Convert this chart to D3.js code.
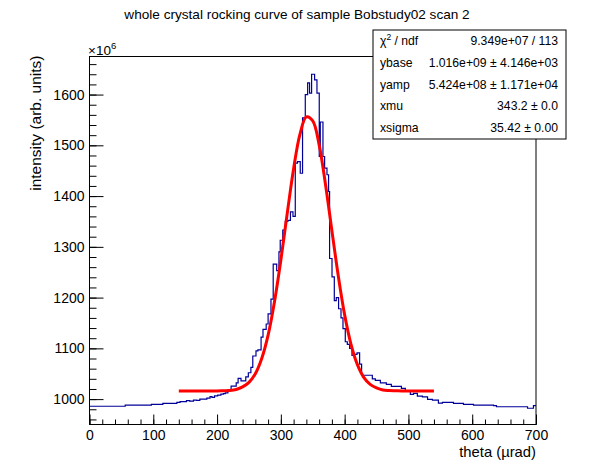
<!DOCTYPE html>
<html>
<head>
<meta charset="utf-8">
<script src="https://cdn.jsdelivr.net/npm/d3@7"></script>
<style>
  body { margin: 0; background: #fff; }
  svg text { font-family: "Liberation Sans", Arial, Helvetica, sans-serif; }
</style>
</head>
<body>
<div id="chart"></div>
<script>
// histogram: left edge of each step (theta, µrad) and its content (x1e6)
const histEdges = [
  0, 56, 97, 115, 137, 142, 152, 157, 163, 168, 173, 184, 189, 192, 196, 201, 206, 210,
  213, 217, 222, 230, 233, 237.5, 245, 249, 253, 256, 261, 264, 269, 272, 277, 280, 284.5,
  288, 293.5, 297, 299, 303, 307, 311, 315, 319, 322.6, 326, 330.4, 334, 338.3, 342, 345,
  348.2, 352.9, 356.6, 360.2, 361.8, 366, 368.6, 372.3, 374.8, 376.4, 380.2, 383.8, 386.9,
  390.5, 394.3, 397.4, 401, 404.2, 407.8, 411.5, 414.1, 419.4, 423.5, 426.6, 443.4, 448.1,
  456, 465.4, 473.2, 489, 495.2, 503, 508, 514, 522, 530, 537.6, 547, 553.3, 570.6, 586.3,
  602, 633.4, 638, 686.7, 696
];
const histValues = [
  986, 988, 989.5, 991.5, 993.5, 995, 997, 996, 998, 997.5, 1000, 1002, 1005, 1003.5, 1006.5, 1008, 1010, 1011,
  1012.5, 1018, 1025.5, 1032, 1041, 1036, 1044, 1052, 1062.5, 1085, 1095, 1097, 1122, 1137.5, 1148, 1168, 1197,
  1266, 1253, 1290, 1313, 1333, 1350, 1352, 1369, 1360, 1465, 1468, 1445, 1554, 1600, 1623, 1603,
  1640, 1629, 1603, 1478, 1546, 1478, 1455, 1442, 1409, 1277, 1241, 1194, 1200,
  1178, 1160, 1139, 1113, 1108, 1100, 1086, 1088, 1091, 1069, 1047, 1040, 1037,
  1032, 1029, 1025, 1021, 1015, 1009.5, 1011.5, 1006, 1004.5, 999.5, 998, 992, 993.5, 991.5, 989.5,
  988, 987, 985, 982, 987
];
const histEnd = 700;

// fitted curve
const fitTheta = [
  140, 150, 160, 170, 180, 190, 200, 210, 220, 230, 240, 250, 260, 270, 280, 290, 300, 310, 320, 330,
  340, 350, 360, 370, 380, 390, 400, 410, 420, 430, 440, 450, 460, 470, 480, 490, 500, 510, 520, 530, 540
];
const fitValues = [
  1016, 1016, 1016, 1016, 1016, 1016, 1016, 1016.5, 1017, 1019, 1024, 1033, 1050, 1080, 1126, 1192, 1274, 1366, 1454, 1522,
  1556, 1548, 1501, 1423, 1332, 1243, 1166, 1108, 1068, 1043, 1029, 1022, 1018, 1017, 1016.5, 1016, 1016, 1016, 1016, 1016, 1016
];

const xTicks = [0, 100, 200, 300, 400, 500, 600, 700];
const yTicks = [1000, 1100, 1200, 1300, 1400, 1500, 1600];

const statNames = ["χ2 / ndf", "ybase", "yamp", "xmu", "xsigma"];
const statValues = ["9.349e+07 / 113", "1.016e+09 ± 4.146e+03", "5.424e+08 ± 1.171e+04", "343.2 ± 0.0", "35.42 ± 0.00"];

const W = 596, H = 472;
const frame = { left: 89.5, right: 536, top: 56.5, bottom: 424.5 };

const svg = d3.select("#chart").append("svg")
    .attr("width", W)
    .attr("height", H);

svg.append("rect").attr("width", W).attr("height", H).attr("fill", "#fff");

const x = d3.scaleLinear().domain([0, 700]).range([frame.left, frame.right]);
const y = d3.scaleLinear().domain([950, 1675]).range([frame.bottom, frame.top]);

// title
svg.append("text")
    .attr("x", 297)
    .attr("y", 19)
    .attr("text-anchor", "middle")
    .attr("font-size", 13.6)
    .text("whole crystal rocking curve of sample Bobstudy02 scan 2");

// axes (ticks inside the frame, ROOT style)
const xMinor = d3.range(0, 701, 20);
const yMinor = d3.range(960, 1675, 20);

svg.append("g")
    .attr("transform", `translate(0,${frame.bottom})`)
    .call(d3.axisBottom(x).tickValues(xMinor).tickSize(-5).tickFormat(""))
    .call(g => g.select(".domain").remove());

svg.append("g")
    .attr("transform", `translate(0,${frame.bottom})`)
    .call(d3.axisBottom(x).tickValues(xTicks).tickSize(-10).tickPadding(6).tickFormat(d3.format("d")))
    .call(g => g.select(".domain").remove())
    .call(g => g.selectAll("text").attr("font-size", 14).attr("fill", "#000"));

svg.append("g")
    .attr("transform", `translate(${frame.left},0)`)
    .call(d3.axisLeft(y).tickValues(yMinor).tickSize(-7).tickFormat(""))
    .call(g => g.select(".domain").remove());

svg.append("g")
    .attr("transform", `translate(${frame.left},0)`)
    .call(d3.axisLeft(y).tickValues(yTicks).tickSize(-14).tickPadding(5).tickFormat(d3.format("d")))
    .call(g => g.select(".domain").remove())
    .call(g => g.selectAll("text").attr("font-size", 14).attr("fill", "#000"));

svg.selectAll(".tick line").attr("stroke", "#000");

// histogram
const steps = histEdges.map((e, i) => [e, histValues[i]]);
steps.push([histEnd, histValues[histValues.length - 1]]);

svg.append("path")
    .datum(steps)
    .attr("fill", "none")
    .attr("stroke", "#000099")
    .attr("stroke-width", 1.2)
    .attr("d", d3.line().x(d => x(d[0])).y(d => y(d[1])).curve(d3.curveStepAfter));

// fit
const fitData = fitTheta.map((t, i) => [t, fitValues[i]]);
svg.append("path")
    .datum(fitData)
    .attr("fill", "none")
    .attr("stroke", "#ff0000")
    .attr("stroke-width", 3)
    .attr("d", d3.line().x(d => x(d[0])).y(d => y(d[1])).curve(d3.curveCatmullRom));

// frame
svg.append("rect")
    .attr("x", frame.left)
    .attr("y", frame.top)
    .attr("width", frame.right - frame.left)
    .attr("height", frame.bottom - frame.top)
    .attr("fill", "none")
    .attr("stroke", "#000")
    .attr("stroke-width", 1);

// exponent label
const expo = svg.append("text")
    .attr("x", 88)
    .attr("y", 55)
    .attr("font-size", 13.5);
expo.append("tspan").text("×10");
expo.append("tspan").attr("font-size", 9.5).attr("dy", -6).text("6");

// axis titles
svg.append("text")
    .attr("transform", `translate(41,${frame.top - 1}) rotate(-90)`)
    .attr("text-anchor", "end")
    .attr("font-size", 15.5)
    .text("intensity (arb. units)");

svg.append("text")
    .attr("x", frame.right)
    .attr("y", 457)
    .attr("text-anchor", "end")
    .attr("font-size", 14.8)
    .text("theta (µrad)");

// stats box
const box = { x: 373, y: 30, w: 193, h: 109 };
svg.append("rect")
    .attr("x", box.x)
    .attr("y", box.y)
    .attr("width", box.w)
    .attr("height", box.h)
    .attr("fill", "#fff")
    .attr("stroke", "#000")
    .attr("stroke-width", 1);

const rowH = box.h / statNames.length;
statNames.forEach((name, i) => {
    const by = box.y + rowH * (i + 0.5) + 4;
    const t = svg.append("text")
        .attr("x", box.x + 7)
        .attr("y", by)
        .attr("font-size", 12.2);
    if (i === 0) {
        t.append("tspan").text("χ");
        t.append("tspan").attr("font-size", 8.5).attr("dy", -5).text("2");
        t.append("tspan").attr("dy", 5).text(" / ndf");
    } else {
        t.text(name);
    }
    svg.append("text")
        .attr("x", box.x + box.w - 8)
        .attr("y", by)
        .attr("text-anchor", "end")
        .attr("font-size", 12.2)
        .text(statValues[i]);
});
</script>
</body>
</html>
